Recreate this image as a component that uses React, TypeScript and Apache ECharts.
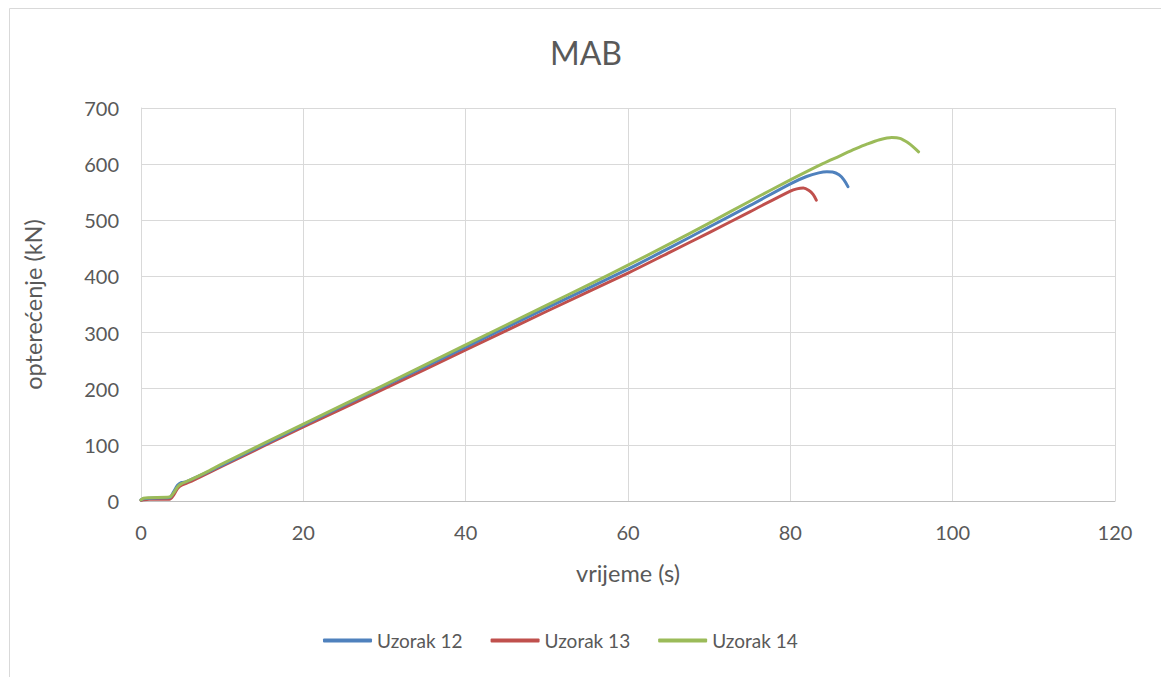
import React, { useEffect, useRef } from "react";
import * as echarts from "echarts";

const seriesNames = ["Uzorak 12", "Uzorak 13", "Uzorak 14"];
const seriesColors = ["#4F81BD", "#C0504D", "#9BBB59"];

const uzorak12: [number, number][] = [
  [0, 2], [0.3, 4], [1, 5], [3.5, 6], [4.0, 16], [4.5, 28], [5, 33], [5.5, 34], [6, 37], [8, 50],
  [10, 64], [20, 135], [30, 205], [40, 274], [50, 344], [60, 413], [65, 450], [70, 488], [75, 526],
  [80, 565], [82, 578], [83.5, 584.5], [84.5, 586.5], [85.2, 586], [86, 581], [86.6, 572], [87.1, 560],
];
const uzorak13: [number, number][] = [
  [0, 1], [0.3, 2], [1, 3], [3.5, 3], [4.0, 10], [4.5, 22], [5, 28], [6, 34], [8, 48], [10, 62],
  [20, 132], [30, 200], [40, 269], [50, 338], [60, 406], [65, 442], [70, 478], [75, 515], [80, 552],
  [80.8, 556], [81.6, 557.5], [82.3, 553], [82.8, 546], [83.2, 536],
];
const uzorak14: [number, number][] = [
  [0, 2], [0.3, 5], [1, 6], [3.5, 7], [4.0, 14], [4.5, 25], [5, 31], [6, 37], [8, 51], [10, 66],
  [20, 137], [30, 207], [40, 278], [50, 349], [55, 384], [60, 420], [65, 457], [70, 495], [75, 534],
  [80, 572], [84, 601], [86, 614], [88, 627], [89.5, 636], [91, 643.5], [92.5, 647.5], [93.5, 646],
  [94.5, 638], [95.2, 630], [95.8, 622],
];
const allSeries = [uzorak12, uzorak13, uzorak14];

const FONT = "Lato, 'Open Sans', sans-serif";
const TEXT = "#595959";

export default function App() {
  const ref = useRef<HTMLDivElement>(null);
  useEffect(() => {
    if (!ref.current) return;
    const chart = echarts.init(ref.current, undefined, { renderer: "svg" });
    chart.setOption({
      animation: false,
      backgroundColor: "#ffffff",
      textStyle: { fontFamily: FONT },
      title: {
        text: "MAB",
        left: 586,
        textAlign: "center",
        top: 36,
        padding: 0,
        textStyle: { fontFamily: FONT, fontSize: 32, fontWeight: "normal", color: TEXT },
      },
      graphic: [
        {
          type: "rect",
          shape: { x: 9.5, y: 8.5, width: 1300, height: 800 },
          style: { fill: "none", stroke: "#d9d9d9", lineWidth: 1 },
          silent: true,
        },
      ],
      grid: { left: 141, right: 46, top: 108, bottom: 176, containLabel: false },
      xAxis: {
        type: "value",
        min: 0,
        max: 120,
        interval: 20,
        name: "vrijeme (s)",
        nameLocation: "middle",
        nameGap: 60,
        nameTextStyle: { fontFamily: FONT, fontSize: 23.5, color: TEXT },
        axisLine: { show: true, lineStyle: { color: "#bfbfbf", width: 1 } },
        axisTick: { show: false },
        axisLabel: { fontFamily: FONT, fontSize: 20, color: TEXT, margin: 21 },
        splitLine: { show: true, lineStyle: { color: "#d9d9d9", width: 1 } },
      },
      yAxis: {
        type: "value",
        min: 0,
        max: 700,
        interval: 100,
        name: "opterećenje (kN)",
        nameLocation: "middle",
        nameGap: 96,
        nameTextStyle: { fontFamily: FONT, fontSize: 23.5, color: TEXT },
        axisLine: { show: true, lineStyle: { color: "#d9d9d9", width: 1 } },
        axisTick: { show: false },
        axisLabel: { fontFamily: FONT, fontSize: 20, color: TEXT, margin: 22 },
        splitLine: { show: true, lineStyle: { color: "#d9d9d9", width: 1 } },
      },
      legend: {
        top: 631,
        left: 323,
        padding: 0,
        itemWidth: 49,
        itemHeight: 4,
        itemGap: 28,
        icon: "roundRect",
        textStyle: { fontFamily: FONT, fontSize: 19, color: TEXT },
        data: seriesNames,
      },
      series: allSeries.map((d, i) => ({
        name: seriesNames[i],
        type: "line",
        data: d,
        showSymbol: false,
        symbol: "none",
        smooth: 0.3,
        lineStyle: { color: seriesColors[i], width: 3, cap: "round", join: "round" },
        itemStyle: { color: seriesColors[i] },
        z: i === 2 ? 4 : i === 0 ? 3 : 2,
      })),
    });
    return () => chart.dispose();
  }, []);
  return (
    <div
      ref={ref}
      style={{ position: "fixed", left: 0, top: 0, width: 1161, height: 677 }}
    />
  );
}
